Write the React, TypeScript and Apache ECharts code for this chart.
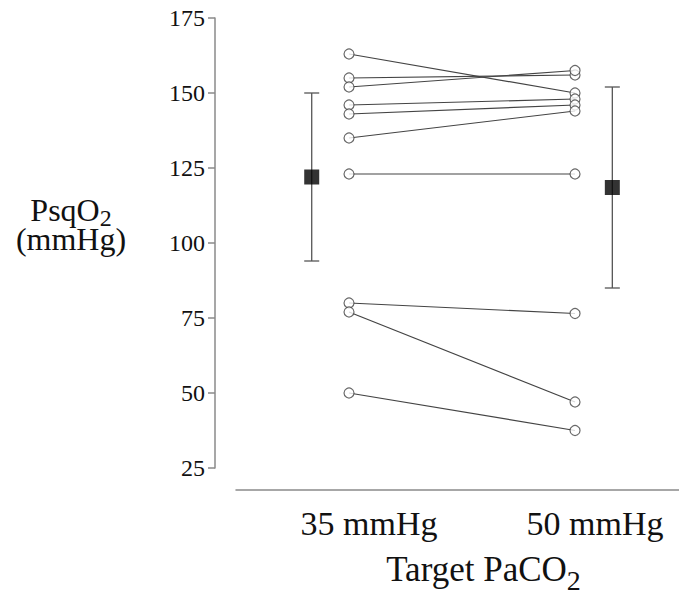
import React, { useEffect, useRef } from "react";
import * as echarts from "echarts";

// Categories (target PaCO2) and their x positions on the value axis
const categories = ["35 mmHg", "50 mmHg"];
const categoryX = [1, 2];

// Individual PsqO2 values (mmHg), paired by subject
const psqo2At35 = [163, 155, 152, 146, 143, 135, 123, 80, 77, 50];
const psqo2At50 = [150, 156, 157.5, 148, 146, 144, 123, 76.5, 47, 37.5];

// Group mean ± SD, drawn beside each category
const meanX = [0.835, 2.165];
const means = [122, 118.5];
const upperSD = [150, 152];
const lowerSD = [94, 85];

// Y axis ticks
const yMin = 25;
const yMax = 175;
const yStep = 25;

const FONT = "'Liberation Serif', 'Times New Roman', serif";
const AXIS_GRAY = "#8a8a8a";
const LINE_DARK = "#444";

export default function App() {
  const ref = useRef<HTMLDivElement>(null);

  useEffect(() => {
    if (!ref.current) return;
    const chart = echarts.init(ref.current, undefined, { renderer: "svg" });

    const pairSeries = psqo2At35.map((v, i) => ({
      type: "line",
      data: [
        [categoryX[0], v],
        [categoryX[1], psqo2At50[i]],
      ],
      symbol: "none",
      lineStyle: { color: LINE_DARK, width: 1.2 },
      z: 2,
      silent: true,
    }));

    const pointData: number[][] = [];
    psqo2At35.forEach((v, i) => {
      pointData.push([categoryX[0], v]);
      pointData.push([categoryX[1], psqo2At50[i]]);
    });

    const option: any = {
      animation: false,
      backgroundColor: "#fff",
      grid: { left: 236, right: 0, top: 18, bottom: 131, containLabel: false },
      xAxis: {
        type: "value",
        min: 0.5,
        max: 2.46,
        offset: 22,
        axisLine: { show: true, lineStyle: { color: AXIS_GRAY, width: 1.5 } },
        axisTick: { show: false },
        splitLine: { show: false },
        axisLabel: {
          customValues: categoryX,
          formatter: (v: number) => {
            const idx = categoryX.indexOf(Math.round(v));
            return idx >= 0 ? categories[idx] : "";
          },
          fontSize: 34,
          fontFamily: FONT,
          color: "#111",
          margin: 16,
          padding: [0, 0, 0, 40],
        },
        name: "{a|Target PaCO}{s|2}",
        nameLocation: "middle",
        nameGap: 62,
        nameTextStyle: {
          padding: [0, 0, 0, 52],
          rich: {
            a: { fontSize: 35, fontFamily: FONT, color: "#111", lineHeight: 35 },
            s: { fontSize: 28, fontFamily: FONT, color: "#111", lineHeight: 14, height: 14, verticalAlign: "bottom" },
          },
        },
      },
      yAxis: {
        type: "value",
        min: yMin,
        max: yMax,
        interval: yStep,
        offset: 21,
        axisLine: { show: true, lineStyle: { color: AXIS_GRAY, width: 1.5 } },
        axisTick: { show: true, length: 7, lineStyle: { color: AXIS_GRAY, width: 1.5 } },
        splitLine: { show: false },
        axisLabel: {
          fontSize: 24,
          fontFamily: FONT,
          color: "#111",
          margin: 10,
        },
        name: "{a|PsqO}{s|2}\n{a|(mmHg)}",
        nameLocation: "middle",
        nameRotate: 0,
        nameGap: 144,
        nameTextStyle: {
          align: "center",
          verticalAlign: "middle",
          padding: [0, 0, 37, 0],
          rich: {
            a: { fontSize: 32, fontFamily: FONT, color: "#111", lineHeight: 29, align: "center" },
            s: { fontSize: 24, fontFamily: FONT, color: "#111", lineHeight: 13, height: 13, verticalAlign: "bottom" },
          },
        },
      },
      series: [
        ...pairSeries,
        {
          type: "scatter",
          data: pointData,
          symbol: "circle",
          symbolSize: 10,
          itemStyle: { color: "#fff", borderColor: LINE_DARK, borderWidth: 1.2 },
          z: 4,
          silent: true,
        },
        {
          type: "custom",
          data: meanX.map((x, i) => [x, lowerSD[i], upperSD[i]]),
          encode: { x: 0, y: [1, 2] },
          renderItem: (_params: any, api: any) => {
            const x = api.value(0);
            const lo = api.coord([x, api.value(1)]);
            const hi = api.coord([x, api.value(2)]);
            const half = 7.5;
            const style = { stroke: "#555", lineWidth: 1.3 };
            return {
              type: "group",
              children: [
                { type: "line", shape: { x1: lo[0], y1: lo[1], x2: hi[0], y2: hi[1] }, style },
                { type: "line", shape: { x1: hi[0] - half, y1: hi[1], x2: hi[0] + half, y2: hi[1] }, style },
                { type: "line", shape: { x1: lo[0] - half, y1: lo[1], x2: lo[0] + half, y2: lo[1] }, style },
              ],
            };
          },
          z: 3,
          silent: true,
        },
        {
          type: "scatter",
          data: meanX.map((x, i) => [x, means[i]]),
          symbol: "rect",
          symbolSize: 15,
          itemStyle: { color: "#000" },
          z: 5,
          silent: true,
        },
      ],
    };

    chart.setOption(option);
    return () => chart.dispose();
  }, []);

  return (
    <div
      ref={ref}
      style={{ position: "fixed", left: 0, top: 0, width: 679, height: 599, background: "#fff" }}
    />
  );
}
